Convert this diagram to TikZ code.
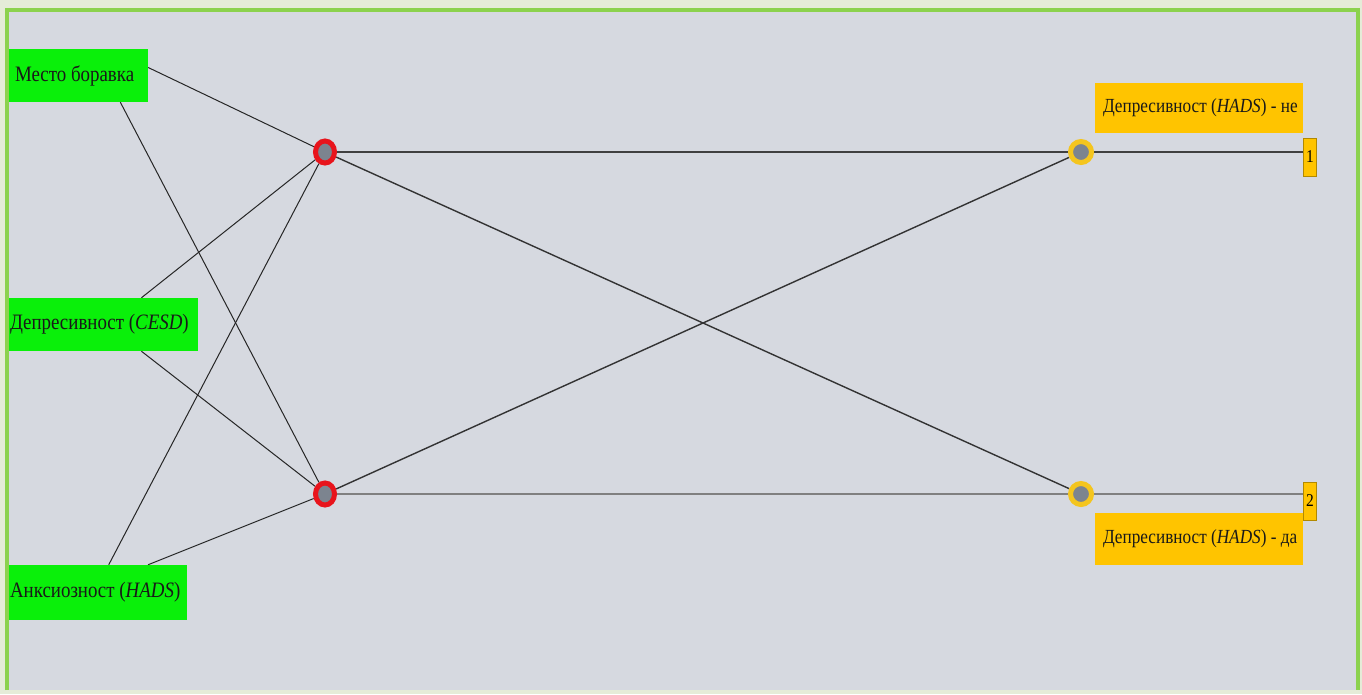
\documentclass[tikz,border=0pt]{standalone}
\usepackage{fontspec}
\setmainfont[FakeStretch=0.86]{Liberation Serif}
\usetikzlibrary{calc,shapes.geometric}
\definecolor{outerbg}{HTML}{E5ECD8}
\definecolor{innerbg}{HTML}{D6D9E0}
\definecolor{framegreen}{HTML}{8CD24E}
\definecolor{boxgreen}{HTML}{0AF00A}
\definecolor{boxyellow}{HTML}{FFC400}
\definecolor{hidred}{HTML}{E8141C}
\definecolor{outyellow}{HTML}{F4C51E}
\definecolor{coregray}{HTML}{7C848F}
\pgfdeclarelayer{bglayer}
\pgfdeclarelayer{edgelayer}
\pgfsetlayers{bglayer,edgelayer,main}
\tikzset{
  inbox/.style={fill=boxgreen, inner sep=0pt, draw=none},
  outbox/.style={fill=boxyellow, inner sep=0pt, draw=none},
  numbox/.style={fill=boxyellow, draw=boxyellow!70!black, line width=0.6pt, inner sep=0pt, minimum width=13pt, minimum height=38pt, font=\fontsize{18}{18}\selectfont},
  lbl/.style={anchor=west, inner sep=0pt, font=\fontsize{20}{23}\selectfont, text=black!90},
  inlbl/.style={lbl, font=\fontsize{22}{25}\selectfont},
  hid/.style={ellipse, fill=coregray, draw=hidred, line width=5pt, minimum width=19pt, minimum height=22pt, inner sep=0pt},
  outn/.style={circle, fill=coregray, draw=outyellow, line width=5pt, minimum size=21pt, inner sep=0pt},
  conn/.style={draw=black!85, line width=1pt},
  wconn/.style={draw=black!80, line width=1.4pt},
  strong/.style={draw=black!75, line width=2pt},
  weak/.style={draw=black!50, line width=1.8pt},
}
\begin{document}
\begin{tikzpicture}[x=1pt,y=-1pt]
\useasboundingbox (0,0) rectangle (1362,694);
\begin{pgfonlayer}{bglayer}
\fill[outerbg] (0,0) rectangle (1362,694);
\fill[innerbg] (7,10) rectangle (1358,690);
\draw[framegreen, line width=4pt] (7,690) -- (7,10) -- (1358,10) -- (1358,690);
\end{pgfonlayer}

% input boxes
\node[inbox, minimum width=139pt, minimum height=53pt] (mb) at (78.5,75.5) {};
\node[inlbl] (mbt) at ([xshift=6pt]mb.west) {Место боравка};
\node[inbox, minimum width=189pt, minimum height=53pt] (ce) at (103.5,324.5) {};
\node[inlbl] (cet) at ([xshift=1pt]ce.west) {Депресивност (\textit{CESD})};
\node[inbox, minimum width=178pt, minimum height=55pt] (an) at (98,592.5) {};
\node[inlbl] (ant) at ([xshift=1pt]an.west) {Анксиозност (\textit{HADS})};

% hidden and output nodes
\node[hid] (h1) at (325,152) {};
\node[hid] (h2) at (325,494) {};
\node[outn] (o1) at (1081,152) {};
\node[outn] (o2) at (1081,494) {};

% output labels
\node[outbox, minimum width=208pt, minimum height=50pt] (ly) at (1199,108) {};
\node[lbl] (lyt) at ([xshift=8pt]ly.west) {Депресивност (\textit{HADS}) - не};
\node[outbox, minimum width=208pt, minimum height=52pt] (ln) at (1199,539) {};
\node[lbl] (lnt) at ([xshift=8pt]ln.west) {Депресивност (\textit{HADS}) - да};
\node[numbox] (n1) at (1310,157) {1};
\node[numbox] (n2) at (1310,501) {2};

\begin{pgfonlayer}{edgelayer}
% input connectors
\draw[conn] ([yshift=8pt]mb.east) -- (h1);
\draw[conn] ($(mb.south west)!0.8!(mb.south east)$) -- (h2);
\draw[conn] ($(ce.north west)!0.7!(ce.north east)$) -- (h1);
\draw[conn] ($(ce.south west)!0.7!(ce.south east)$) -- (h2);
\draw[conn] ($(an.north west)!0.56!(an.north east)$) -- (h1);
\draw[conn] ($(an.north west)!0.78!(an.north east)$) -- (h2);
% hidden to output
\draw[strong] (h1) -- (o1);
\draw[wconn] (h1) -- (o2);
\draw[wconn] (h2) -- (o1);
\draw[weak] (h2) -- (o2);
\draw[strong] (o1) -- (o1 -| n1.west);
\draw[weak] (o2) -- (o2 -| n2.west);
\end{pgfonlayer}
\end{tikzpicture}
\end{document}
